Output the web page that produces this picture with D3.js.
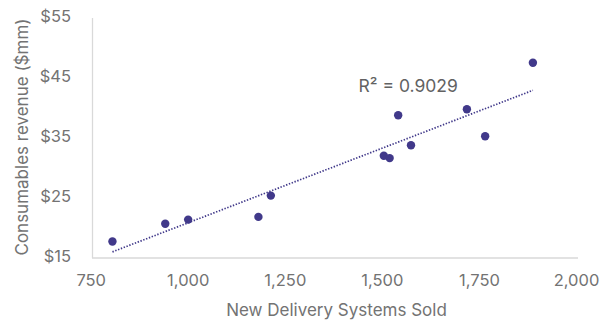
<!DOCTYPE html>
<html>
<head>
<meta charset="utf-8">
<script src="https://cdn.jsdelivr.net/npm/d3@7"></script>
<style>
  html, body { margin: 0; padding: 0; background: #fff; }
  svg { display: block; font-family: Inter, "Noto Sans", sans-serif; }
</style>
</head>
<body>
<svg id="chart" width="615" height="327"></svg>
<script>
// ---- data ----
const systemsSold = [806, 942, 1001, 1182, 1214, 1505, 1520, 1542, 1575, 1719, 1766, 1889];
const consumablesRevenue = [17.5, 20.45, 21.15, 21.6, 25.15, 31.8, 31.4, 38.55, 33.55, 39.55, 35.05, 47.3];
const xTicks = [750, 1000, 1250, 1500, 1750, 2000];
const yTicks = [15, 25, 35, 45, 55];
const xTitle = "New Delivery Systems Sold";
const yTitle = "Consumables revenue ($mm)";
const rSquaredLabel = "R² = 0.9029";

// ---- layout ----
const svg = d3.select("#chart");
const x = d3.scaleLinear().domain([750, 2000]).range([90.7, 576]);
const y = d3.scaleLinear().domain([15, 55]).range([256.5, 16.5]);
const textColor = "#737373";
const axisColor = "#d9d9d9";
const dotColor = "#41398a";

// axis lines
svg.append("line")
  .attr("x1", 92.5).attr("x2", 92.5)
  .attr("y1", 18).attr("y2", 258)
  .attr("stroke", axisColor).attr("stroke-width", 1.3);
svg.append("line")
  .attr("x1", 92).attr("x2", 578)
  .attr("y1", 258).attr("y2", 258)
  .attr("stroke", axisColor).attr("stroke-width", 1.3);

// x axis labels
const xAxis = d3.axisBottom(x).tickValues(xTicks).tickSize(0).tickPadding(0)
  .tickFormat(d3.format(","));
const gx = svg.append("g").attr("transform", "translate(0,273)").call(xAxis);
gx.select(".domain").remove();
gx.selectAll("text")
  .attr("dy", null).attr("y", 0)
  .attr("dominant-baseline", "hanging")
  .attr("fill", textColor).attr("font-size", 16.5).attr("font-family", "Inter, sans-serif");

// y axis labels
const yAxis = d3.axisLeft(y).tickValues(yTicks).tickSize(0).tickPadding(0)
  .tickFormat(d => "$" + d);
const gy = svg.append("g").attr("transform", "translate(71,0)").call(yAxis);
gy.select(".domain").remove();
gy.selectAll("text")
  .attr("fill", textColor).attr("font-size", 16.5).attr("font-family", "Inter, sans-serif");

// axis titles
svg.append("text")
  .attr("x", 336.5).attr("y", 315.5)
  .attr("text-anchor", "middle")
  .attr("fill", textColor).attr("font-size", 17)
  .text(xTitle);
svg.append("text")
  .attr("transform", "translate(28,137) rotate(-90)")
  .attr("text-anchor", "middle")
  .attr("fill", textColor).attr("font-size", 17)
  .text(yTitle);

// linear regression trend line
const n = systemsSold.length;
const mx = d3.mean(systemsSold), my = d3.mean(consumablesRevenue);
let sxy = 0, sxx = 0;
for (let i = 0; i < n; i++) {
  sxy += (systemsSold[i] - mx) * (consumablesRevenue[i] - my);
  sxx += (systemsSold[i] - mx) ** 2;
}
const slope = sxy / sxx, intercept = my - slope * mx;
const x0 = d3.min(systemsSold), x1 = d3.max(systemsSold);
svg.append("line")
  .attr("x1", x(x0)).attr("y1", y(intercept + slope * x0))
  .attr("x2", x(x1)).attr("y2", y(intercept + slope * x1))
  .attr("stroke", dotColor).attr("stroke-width", 1.7)
  .attr("stroke-dasharray", "1.4 1.6");

// points
svg.append("g").selectAll("circle")
  .data(systemsSold.map((v, i) => [v, consumablesRevenue[i]]))
  .join("circle")
  .attr("cx", d => x(d[0]))
  .attr("cy", d => y(d[1]))
  .attr("r", 4.2)
  .attr("fill", dotColor);

// R² label
svg.append("text")
  .attr("x", 358.5).attr("y", 91.5)
  .attr("fill", "#626262").attr("font-size", 17.5)
  .text(rSquaredLabel);
</script>
</body>
</html>
